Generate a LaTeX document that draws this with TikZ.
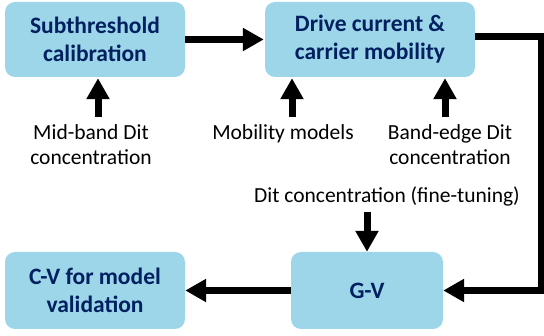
\documentclass[tikz,border=0pt]{standalone}
\usepackage{fontspec}
\setmainfont{Carlito}
\usetikzlibrary{arrows.meta}
\usetikzlibrary{positioning}
\definecolor{boxblue}{RGB}{157,214,233}
\definecolor{navy}{RGB}{0,32,96}
\tikzset{stage/.style = {fill=boxblue, rounded corners=10pt, text=navy, align=center,
    font=\bfseries\fontsize{23.5}{28}\selectfont, inner sep=0}}
\tikzset{lbl/.style = {align=center, inner sep=0, anchor=base,
    font=\fontsize{21.5}{25}\selectfont}}
\tikzset{flow/.style = {line width=7pt, -{Triangle[width=22pt, length=21pt]}}}

\begin{document}
\begin{tikzpicture}[x=1pt, y=-1pt]
    \useasboundingbox (0, 0) rectangle (544, 336);

    \node [stage, minimum width=180, minimum height=75] (subth) at (95, 39.5)
      {Subthreshold\\calibration};
    \node [stage, minimum width=210, minimum height=75] (drive) at (370, 39.5)
      {Drive current \&\\carrier mobility};
    \node [stage, minimum width=152, minimum height=77] (gv) at (367, 290.5) {G-V};
    \node [stage, minimum width=180, minimum height=77] (cv) at (95, 290.5)
      {C-V for model\\validation};

    % base sits on the last line
    \node [lbl] (midband) at (91, 165) {Mid-band Dit\\concentration};
    \node [lbl] (mobmod) at (283, 140) {Mobility models};
    \node [lbl] (bandedge) at (450, 165) {Band-edge Dit\\concentration};
    \node [lbl] (finetune) at (387, 203) {Dit concentration (fine-tuning)};
    \coordinate (turn) at (541, 37);

    % main chain
    \draw [flow, shorten >=1pt] (subth.east) -- (drive.west);
    \draw [flow] (drive.east |- turn) -- (turn) |- (gv.east);
    \draw [flow] (gv.west) -- (cv.east);

    % inputs
    \draw [flow, shorten <=8pt, shorten >=1pt] ([xshift=7pt]midband.north)
      -- ([xshift=7pt]midband.north |- subth.south);
    \draw [flow, shorten <=8pt, shorten >=1pt] ([xshift=9pt]mobmod.north)
      -- ([xshift=9pt]mobmod.north |- drive.south);
    \draw [flow, shorten <=8pt, shorten >=1pt] ([xshift=-5pt]bandedge.north)
      -- ([xshift=-5pt]bandedge.north |- drive.south);
    \draw [flow, shorten <=5pt] (finetune.south -| gv.north) -- (gv.north);
  \end{tikzpicture}
\end{document}
